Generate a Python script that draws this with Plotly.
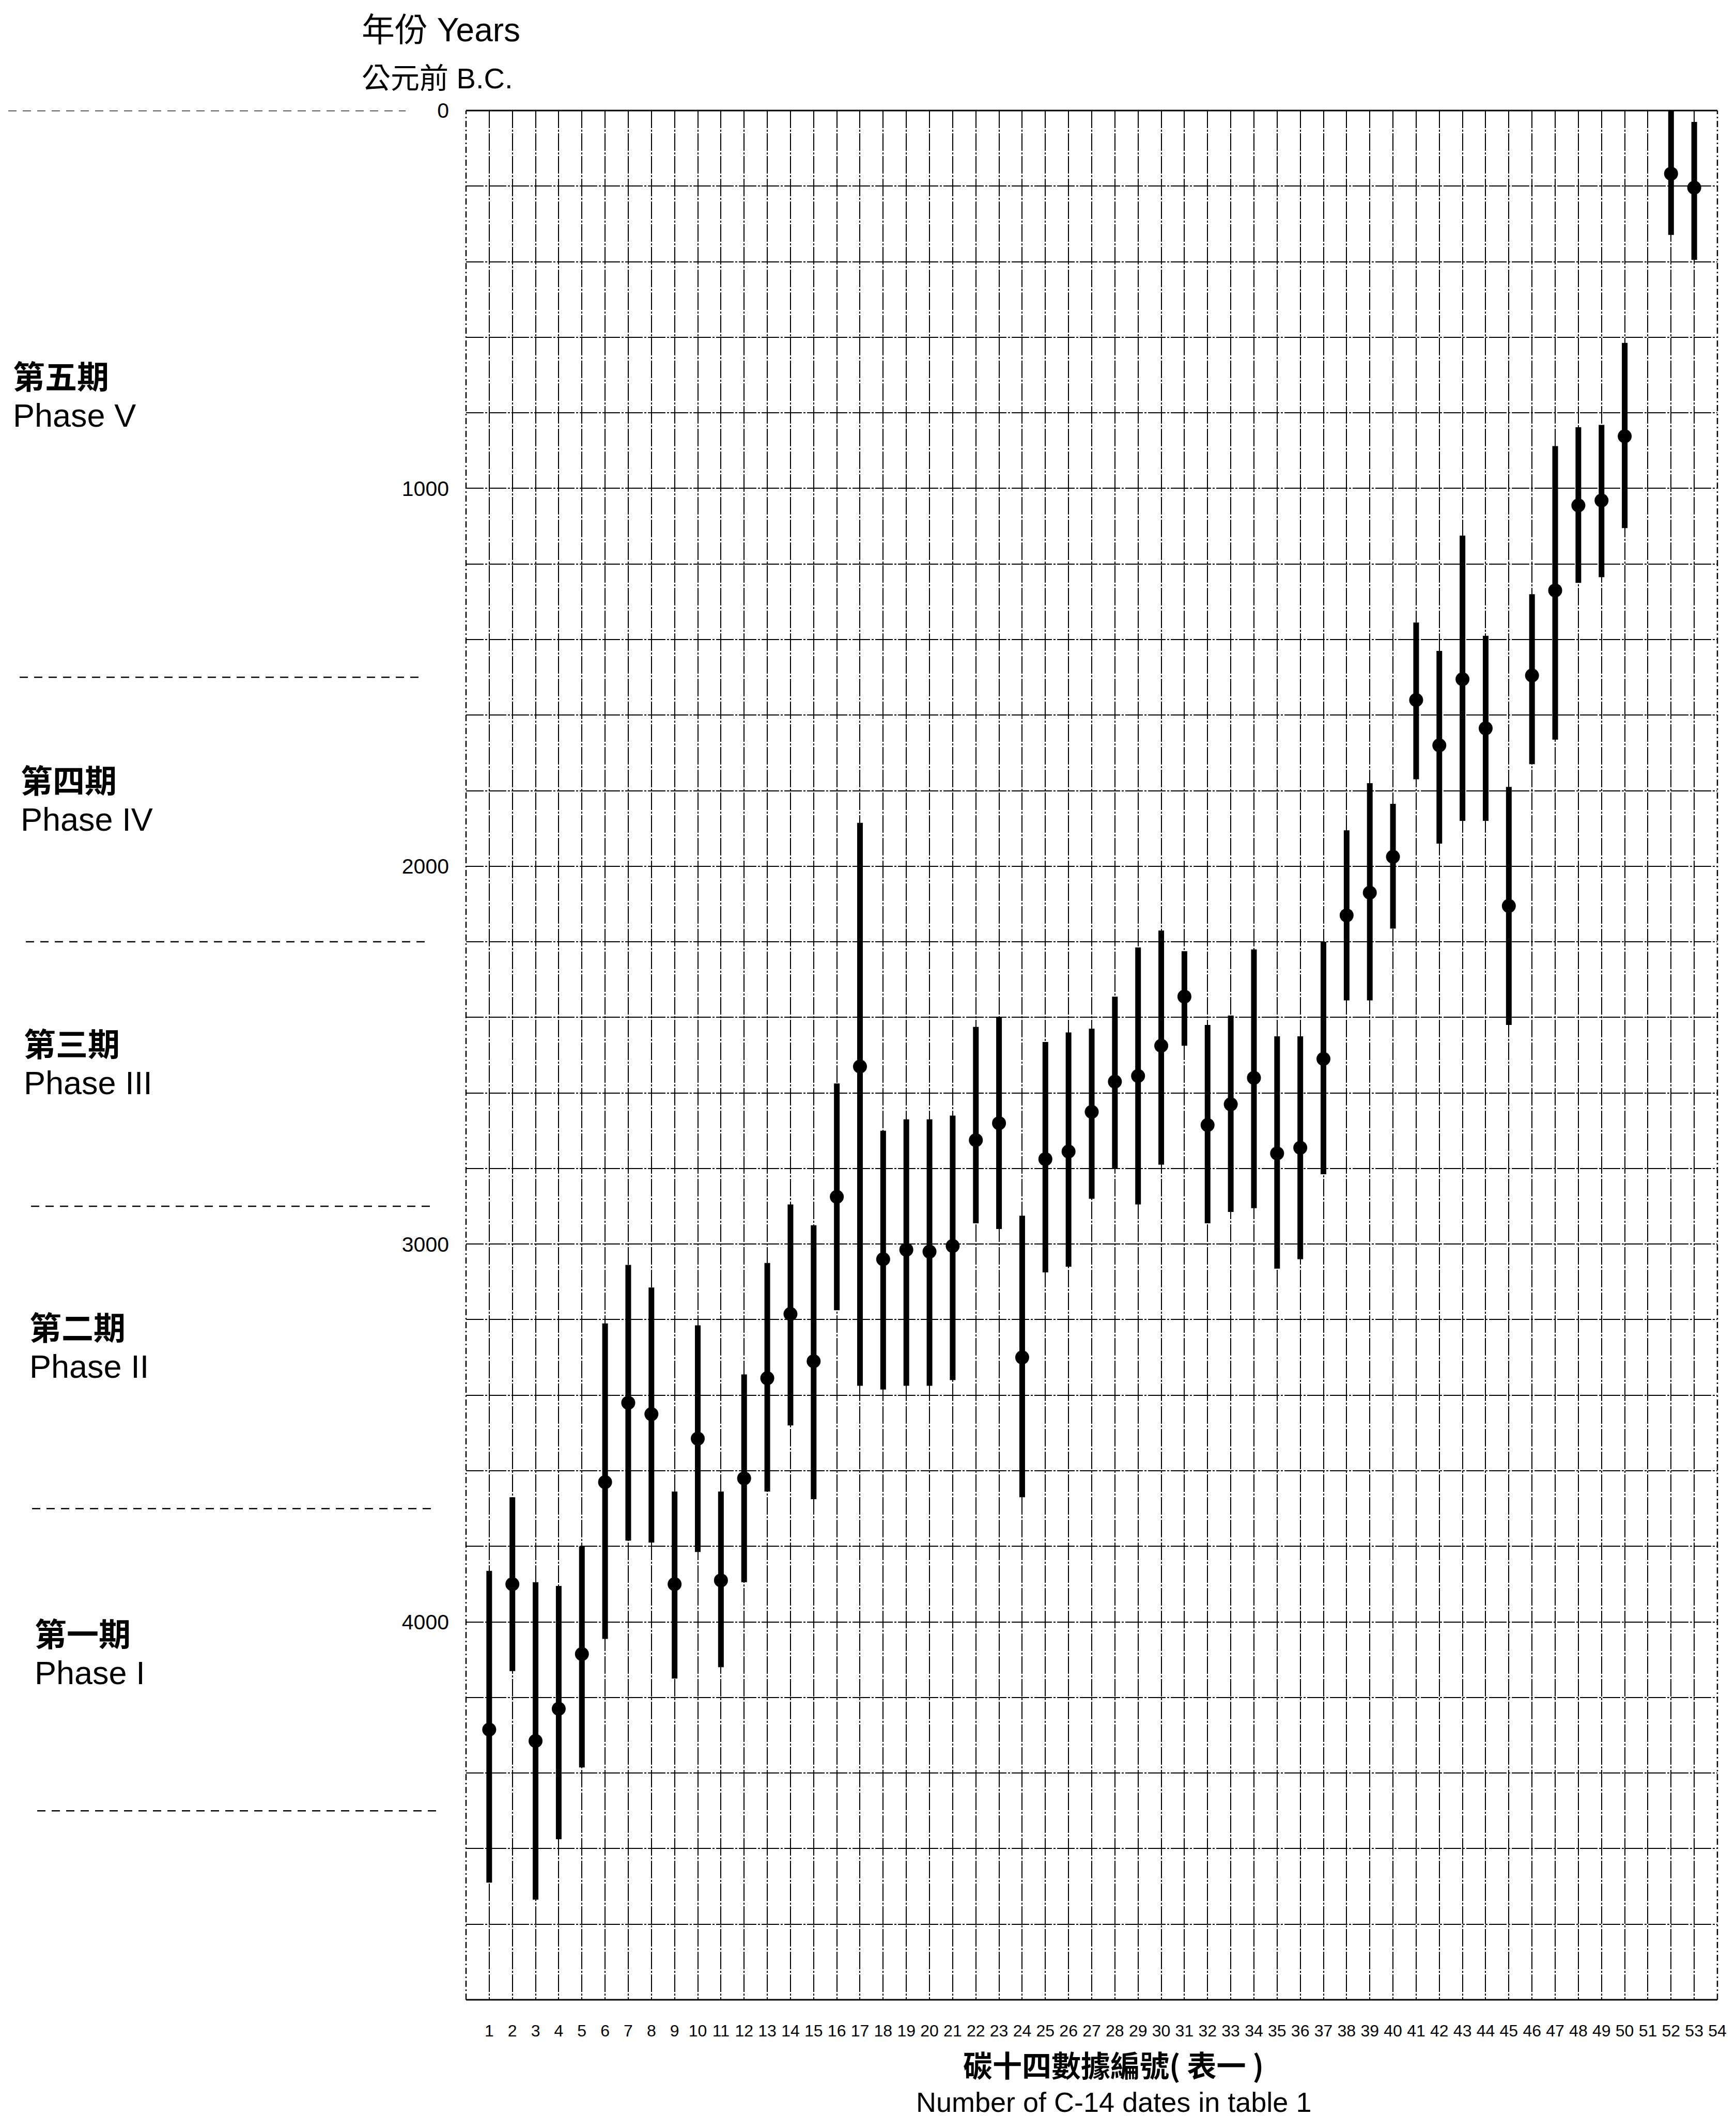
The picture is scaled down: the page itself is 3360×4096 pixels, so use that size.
import plotly.graph_objects as go

# ---------------- data (years B.C.) ----------------
date_no = list(range(1, 51)) + [52, 53]
young = [3865, 3670, 3895, 3905, 3800, 3210, 3055, 3115, 3655, 3215, 3655, 3345, 3050, 2895, 2950, 2575, 1885,
         2700, 2670, 2670, 2660, 2425, 2400, 2925, 2465, 2440, 2430, 2345, 2215, 2170, 2225, 2420, 2395,
         2220, 2450, 2450, 2200, 1905, 1780, 1835, 1355, 1430, 1125, 1390, 1790, 1280, 888, 838, 832, 615,
         0, 30]
dot_year = [4285, 3900, 4315, 4230, 4085, 3630, 3420, 3450, 3900, 3515, 3890, 3620, 3355, 3185, 3310, 2875, 2530,
            3040, 3015, 3020, 3005, 2725, 2680, 3300, 2775, 2755, 2650, 2570, 2555, 2475, 2345, 2685, 2630,
            2560, 2760, 2745, 2510, 2130, 2070, 1975, 1560, 1680, 1505, 1635, 2105, 1495, 1270, 1045, 1032, 862,
            167, 204]
old = [4690, 4130, 4735, 4575, 4385, 4045, 3785, 3790, 4150, 3815, 4120, 3895, 3655, 3480, 3675, 3175, 3375,
       3385, 3375, 3375, 3360, 2945, 2960, 3670, 3075, 3060, 2880, 2800, 2895, 2790, 2475, 2945, 2915,
       2905, 3065, 3040, 2815, 2355, 2355, 2165, 1770, 1940, 1880, 1880, 2420, 1730, 1665, 1250, 1235, 1105,
       329, 395]

x_tick_vals = list(range(1, 55))
x_tick_text = [str(v) for v in x_tick_vals]
y_tick_vals = [0, 1000, 2000, 3000, 4000]
y_tick_text = ["0", "1000", "2000", "3000", "4000"]
phase_bounds = [0, 1500, 2200, 2900, 3700, 4500]
phase_cn = ["第五期", "第四期", "第三期", "第二期", "第一期"]
phase_en = ["Phase V", "Phase IV", "Phase III", "Phase II", "Phase I"]

# ---------------- geometry ----------------
W, H = 3360, 4096
L, R, T, B = 894, 3316, 206, 3863
LAT = "Liberation Sans, Arial, Noto Sans CJK TC, sans-serif"
CJK = "Noto Sans CJK TC, Noto Sans CJK SC, sans-serif"
NARROW = "Liberation Sans Narrow, Liberation Sans, Arial, sans-serif"


def px(xpix):
    return (xpix - L) / (R - L)


def py(ypix):
    return (B - ypix) / (B - T)


GRID_DASH = "34px,3px,4px,3px"

# ---------------- traces ----------------
bx, by = [], []
for n, a, b in zip(date_no, young, old):
    bx += [n, n, None]
    by += [a, b, None]

fig = go.Figure()
fig.add_trace(go.Scatter(x=bx, y=by, mode="lines", line=dict(color="black", width=11),
                         hoverinfo="skip", showlegend=False))
fig.add_trace(go.Scatter(x=date_no, y=dot_year, mode="markers",
                         marker=dict(color="black", size=27, line=dict(width=0)),
                         showlegend=False))

# ---------------- frame ----------------
shapes = [
    dict(type="line", xref="paper", yref="paper", x0=0, x1=1, y0=1, y1=1, line=dict(color="black", width=3)),
    dict(type="line", xref="paper", yref="paper", x0=0, x1=1, y0=0, y1=0, line=dict(color="black", width=3)),
    dict(type="line", xref="paper", yref="paper", x0=0, x1=0, y0=0, y1=1,
         line=dict(color="black", width=2.5, dash="12px,5px,3px,5px")),
    dict(type="line", xref="paper", yref="paper", x0=1, x1=1, y0=0, y1=1,
         line=dict(color="black", width=2.5, dash="12px,5px,3px,5px")),
]
sep_x = [(8, 777), (30, 805), (42, 820), (52, 830), (54, 836), (64, 844)]
for yb, (x0, x1) in zip(phase_bounds, sep_x):
    shapes.append(dict(type="line", xref="paper", yref="y", x0=px(x0), x1=px(x1), y0=yb, y1=yb,
                       line=dict(color="black", width=2.5, dash="16px,12px")))

# ---------------- annotations ----------------
ann = []
ann.append(dict(text="年份 Years", x=px(690), y=py(50), xref="paper", yref="paper",
                xanchor="left", yanchor="middle", showarrow=False,
                font=dict(family=LAT, size=64, color="black")))
ann.append(dict(text="公元前 B.C.", x=px(690), y=py(143), xref="paper", yref="paper",
                xanchor="left", yanchor="middle", showarrow=False,
                font=dict(family=LAT, size=56, color="black")))
phase_pos = [(15, 752), (30, 1534), (36, 2044), (47, 2593), (57, 3186)]
for cn, en, (xx, yc) in zip(phase_cn, phase_en, phase_pos):
    txt = ("<b><span style='font-family:Noto Sans CJK TC;font-size:62px'>" + cn + "</span></b><br>"
           "<span style='font-size:63px'>" + en + "</span>")
    ann.append(dict(text=txt, x=px(xx), y=py(yc), xref="paper", yref="paper",
                    xanchor="left", yanchor="middle", align="left", showarrow=False,
                    font=dict(family=LAT, size=56, color="black")))
ann.append(dict(text="<b>碳十四數據編號( 表一 )</b>", x=px(2147), y=py(3987), xref="paper", yref="paper",
                xanchor="center", yanchor="middle", showarrow=False,
                font=dict(family=CJK, size=57, color="black")))
ann.append(dict(text="Number of C-14 dates in table 1", x=px(2147), y=py(4061), xref="paper", yref="paper",
                xanchor="center", yanchor="middle", showarrow=False,
                font=dict(family=LAT, size=54, color="black")))

fig.update_layout(
    width=W, height=H,
    margin=dict(l=L, r=W - R, t=T, b=H - B, pad=0),
    paper_bgcolor="white", plot_bgcolor="white",
    showlegend=False,
    shapes=shapes,
    annotations=ann,
    xaxis=dict(range=[0, 54], tickvals=x_tick_vals, ticktext=x_tick_text,
               showgrid=True, gridcolor="black", gridwidth=2.2, griddash=GRID_DASH,
               zeroline=False, showline=False, ticks="", ticklabelstandoff=38,
               tickfont=dict(family=NARROW, size=32, color="black"), fixedrange=True),
    yaxis=dict(range=[5000, 0], tickvals=y_tick_vals, ticktext=y_tick_text,
               showgrid=True, gridcolor="black", gridwidth=2.2, griddash=GRID_DASH,
               minor=dict(dtick=200, tick0=0, showgrid=True, gridcolor="black", gridwidth=2.2,
                          griddash=GRID_DASH, ticks=""),
               zeroline=False, showline=False, ticks="", ticklabelstandoff=32,
               tickfont=dict(family=LAT, size=41, color="black"), fixedrange=True),
)

fig.write_html("out.html")
